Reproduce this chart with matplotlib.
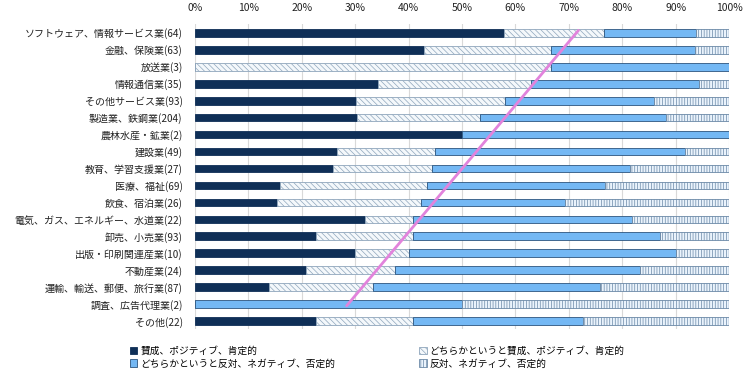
import matplotlib
matplotlib.use("Agg")
import matplotlib.pyplot as plt
import numpy as np
from matplotlib.patches import Patch

plt.rcParams['font.family'] = ['Noto Sans CJK JP', 'DejaVu Sans']
plt.rcParams['hatch.linewidth'] = 0.5

# industries and respondent counts (n)
categories = ["ソフトウェア、情報サービス業", "金融、保険業", "放送業", "情報通信業",
              "その他サービス業", "製造業、鉄鋼業", "農林水産・鉱業", "建設業",
              "教育、学習支援業", "医療、福祉", "飲食、宿泊業", "電気、ガス、エネルギー、水道業",
              "卸売、小売業", "出版・印刷関連産業", "不動産業", "運輸、輸送、郵便、旅行業",
              "調査、広告代理業", "その他"]
n_resp = [64, 63, 3, 35, 93, 204, 2, 49, 27, 69, 26, 22, 93, 10, 24, 87, 2, 22]

# answer counts per category
agree = [37, 27, 0, 12, 28, 62, 1, 13, 7, 11, 4, 7, 21, 3, 5, 12, 0, 5]
rather_agree = [12, 15, 2, 10, 26, 47, 0, 9, 5, 19, 7, 2, 17, 1, 4, 17, 0, 4]
rather_oppose = [11, 17, 1, 11, 26, 71, 1, 23, 10, 23, 7, 9, 43, 5, 11, 37, 1, 7]
oppose = [4, 4, 0, 2, 13, 24, 0, 4, 5, 16, 8, 4, 12, 1, 4, 21, 1, 6]

series_names = ["賛成、ポジティブ、肯定的", "どちらかというと賛成、ポジティブ、肯定的",
                "どちらかというと反対、ネガティブ、否定的", "反対、ネガティブ、否定的"]
xtick_vals = [0, 10, 20, 30, 40, 50, 60, 70, 80, 90, 100]

# hand drawn trend line (percent, row index)
trend_x = [71.8, 28.4]
trend_y = [-0.15, 16.1]

labels = [f"{c}({n})" for c, n in zip(categories, n_resp)]
total = np.array(n_resp, dtype=float)
pcts = [np.array(s) / total * 100 for s in (agree, rather_agree, rather_oppose, oppose)]

styles = [
    dict(color="#0F2F57", edgecolor="#0F2F57", hatch=None),
    dict(color="#F4F8FB", edgecolor="#8FA6BC", hatch="\\\\\\\\\\\\"),
    dict(color="#74B8F4", edgecolor="#2C557E", hatch=None),
    dict(color="#EAF3FC", edgecolor="#6A88A6", hatch="||||||"),
]

fig = plt.figure(figsize=(7.55, 3.85), dpi=100)
ax = fig.add_axes([0.2583, 0.1442, 0.7073, 0.7922])

y = np.arange(len(categories))
left = np.zeros(len(categories))
for p, st in zip(pcts, styles):
    ax.barh(y, p, left=left, height=0.45, color=st["color"], edgecolor=st["edgecolor"],
            hatch=st["hatch"], linewidth=0.6, zorder=2)
    left += p

ax.plot(trend_x, trend_y, color="#E283DC", linewidth=2.0, zorder=3, solid_capstyle="round")

ax.set_xlim(0, 100)
ax.set_ylim(len(categories) - 0.5, -0.5)
ax.set_yticks(y)
ax.set_yticklabels(labels, fontsize=7.2, color="#222222")
ax.set_xticks(xtick_vals)
ax.set_xticklabels([f"{v}%" for v in xtick_vals], fontsize=7.5, color="#222222")
ax.xaxis.tick_top()
ax.tick_params(axis="both", length=0)
ax.tick_params(axis="x", pad=8)
ax.tick_params(axis="y", pad=9)
ax.grid(axis="x", color="#D9D9D9", linewidth=0.8, zorder=0)
ax.set_axisbelow(True)
for s in ax.spines.values():
    s.set_visible(False)

handles = [Patch(facecolor=st["color"], edgecolor=st["edgecolor"], hatch=st["hatch"], linewidth=0.6)
           for st in styles]
order = [0, 2, 1, 3]
fig.legend([handles[i] for i in order], [series_names[i] for i in order],
           loc="lower left", bbox_to_anchor=(0.16, 0.02), ncol=2, frameon=False,
           fontsize=7, handlelength=0.8, handleheight=0.8, handletextpad=0.3,
           columnspacing=8.6, labelspacing=0.3)

fig.savefig("out.png", dpi=100, facecolor="white")
